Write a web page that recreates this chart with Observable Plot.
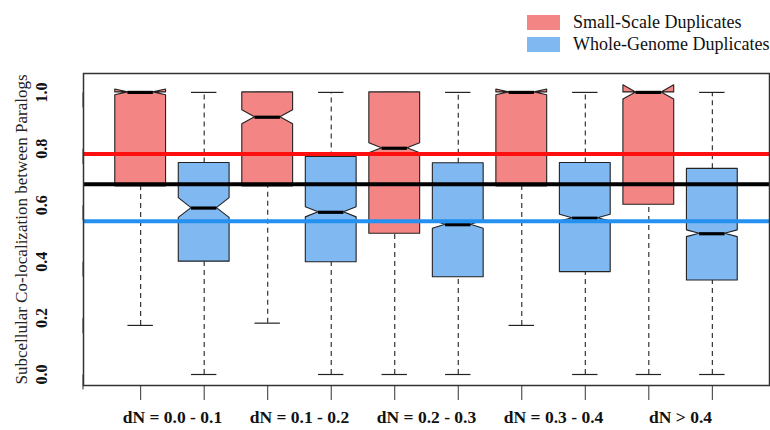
<!DOCTYPE html>
<html>
<head>
<meta charset="utf-8">
<script src="https://cdn.jsdelivr.net/npm/d3@7"></script>
<script src="https://cdn.jsdelivr.net/npm/@observablehq/plot@0.6"></script>
<style>
  body { margin: 0; background: #fff; }
  #wrap { position: relative; width: 770px; height: 430px; font-family: "Liberation Serif", "DejaVu Serif", serif; }
  .legend { position: absolute; left: 527px; top: 11px; font-size: 18px; color: #111; }
  .legend .row { display: flex; align-items: center; height: 22px; }
  .legend .sw { width: 33px; height: 15px; margin-right: 13px; }
</style>
</head>
<body>
<div id="wrap"></div>
<script>
// ---- data ----
const groups = ["dN = 0.0 - 0.1", "dN = 0.1 - 0.2", "dN = 0.2 - 0.3", "dN = 0.3 - 0.4", "dN > 0.4"];
const types = ["Small-Scale Duplicates", "Whole-Genome Duplicates"];
const colors = ["#f38585", "#80b8f2"];
// boxes alternate SSD, WGD for each group
const lowerWhisker = [0.174, 0.0, 0.182, 0.0, 0.0, 0.0, 0.174, 0.0, 0.0, 0.0];
const q1           = [0.667, 0.400, 0.667, 0.398, 0.499, 0.345, 0.667, 0.363, 0.602, 0.333];
const median       = [1.000, 0.590, 0.912, 0.575, 0.802, 0.531, 1.000, 0.554, 1.000, 0.499];
const q3           = [1.000, 0.750, 1.000, 0.771, 1.000, 0.749, 1.000, 0.750, 1.000, 0.729];
const upperWhisker = [1.0, 1.0, 1.0, 1.0, 1.0, 1.0, 1.0, 1.0, 1.0, 1.0];
const notchHalf    = [0.010, 0.035, 0.025, 0.018, 0.018, 0.014, 0.010, 0.012, 0.025, 0.012];
const refValues = [0.782, 0.674, 0.543];
const refColors = ["#ff1010", "#000000", "#2490ef"];
const yTicks = [0.0, 0.2, 0.4, 0.6, 0.8, 1.0];
const yLabel = "Subcellular Co-localization between Paralogs";

// ---- derived tables ----
const boxes = q1.map((_, i) => ({
  pos: i + 1,
  type: types[i % 2],
  group: groups[Math.floor(i / 2)],
  lw: lowerWhisker[i], q1: q1[i], med: median[i], q3: q3[i], uw: upperWhisker[i], n: notchHalf[i]
}));
const halfW = 0.4, notchW = 0.2, capW = 0.2;
const outline = boxes.flatMap(b => [
  {box: b.pos, type: b.type, y: b.q1, x1: b.pos - halfW, x2: b.pos + halfW},
  {box: b.pos, type: b.type, y: b.med - b.n, x1: b.pos - halfW, x2: b.pos + halfW},
  {box: b.pos, type: b.type, y: b.med, x1: b.pos - halfW + notchW, x2: b.pos + halfW - notchW},
  {box: b.pos, type: b.type, y: b.med + b.n, x1: b.pos - halfW, x2: b.pos + halfW},
  {box: b.pos, type: b.type, y: b.q3, x1: b.pos - halfW, x2: b.pos + halfW}
]);
const groupCenters = groups.map((g, i) => ({g, x: 2 * i + 1.5}));
const serif = "Liberation Serif";

const chart = Plot.plot({
  width: 770,
  height: 430,
  marginLeft: 83,
  marginRight: 1,
  marginTop: 73,
  marginBottom: 45,
  style: {fontFamily: serif, background: "white"},
  x: {type: "linear", domain: [0.1, 10.9], axis: null},
  y: {domain: [-0.039, 1.067], axis: null},
  color: {domain: types, range: colors},
  marks: [
    // whiskers
    Plot.ruleX(boxes, {x: "pos", y1: "q3", y2: "uw", stroke: "#222", strokeDasharray: "5,4", strokeWidth: 1.1}),
    Plot.ruleX(boxes, {x: "pos", y1: "lw", y2: "q1", stroke: "#222", strokeDasharray: "5,4", strokeWidth: 1.1}),
    Plot.ruleY(boxes, {y: "uw", x1: d => d.pos - capW, x2: d => d.pos + capW, stroke: "#222", strokeWidth: 1.2}),
    Plot.ruleY(boxes, {y: "lw", x1: d => d.pos - capW, x2: d => d.pos + capW, stroke: "#222", strokeWidth: 1.2}),
    // notched boxes
    Plot.areaX(outline, {y: "y", x1: "x1", x2: "x2", z: "box", fill: "type", stroke: "#222", strokeWidth: 1.1, curve: "linear"}),
    // medians
    Plot.ruleY(boxes, {y: "med", x1: d => d.pos - halfW + notchW, x2: d => d.pos + halfW - notchW, stroke: "#000", strokeWidth: 3.2}),
    // reference lines
    Plot.ruleY(refValues, {y: d => d, stroke: (d, i) => refColors[i], strokeWidth: 4}),
    Plot.frame({stroke: "#333", strokeWidth: 1.5}),
    // axes
    Plot.axisY({ticks: yTicks, tickSize: 15, tickPadding: 27, tickFormat: d3.format(".1f"), rotate: -90,
      textAnchor: "middle", fontWeight: "bold", fontSize: 16, stroke: "#333", color: "#111", label: null}),
    Plot.axisX({ticks: boxes.map(b => b.pos), tickSize: 15, tickFormat: () => "", stroke: "#333", label: null}),
    Plot.text(groupCenters, {x: "x", text: "g", frameAnchor: "bottom", dy: 32, fontWeight: "bold", fontSize: 17.5, fill: "#111", lineAnchor: "middle"}),
    Plot.text([yLabel], {frameAnchor: "left", dx: -62, rotate: -90, fontSize: 17, fill: "#222", textAnchor: "middle", lineAnchor: "middle"})
  ]
});

const wrap = document.getElementById("wrap");
wrap.appendChild(chart);
const svg = wrap.querySelector("svg");
svg.style.position = "absolute"; svg.style.left = "0"; svg.style.top = "0";

const legend = document.createElement("div");
legend.className = "legend";
types.forEach((t, i) => {
  const row = document.createElement("div");
  row.className = "row";
  const sw = document.createElement("div");
  sw.className = "sw"; sw.style.background = colors[i];
  const lab = document.createElement("span");
  lab.textContent = t;
  row.appendChild(sw); row.appendChild(lab);
  legend.appendChild(row);
});
wrap.appendChild(legend);
</script>
</body>
</html>
